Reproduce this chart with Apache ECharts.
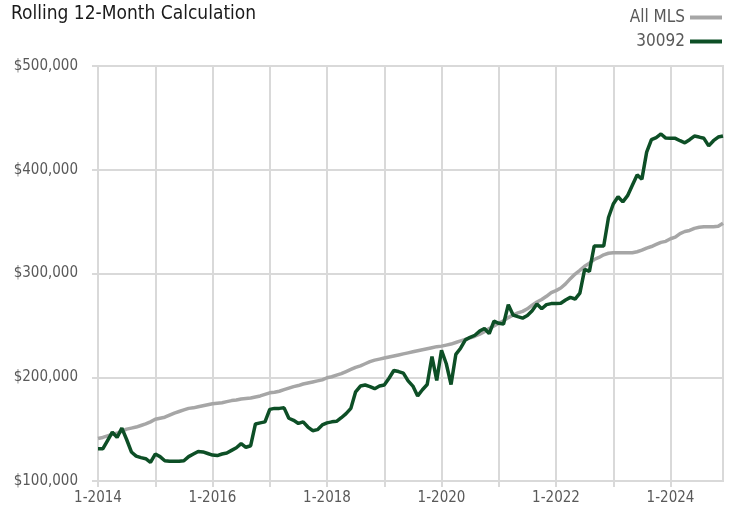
<!DOCTYPE html>
<html>
<head>
<meta charset="utf-8">
<script src="https://cdn.jsdelivr.net/npm/echarts@6/dist/echarts.min.js"></script>
<style>
  html, body { margin: 0; padding: 0; background: #fff; }
  #chart { width: 733px; height: 515px; }
</style>
</head>
<body>
<div id="chart"></div>
<script>
// monthly values, 1-2014 .. 12-2024 (thousands of $)
var allMls = [
  141, 142, 143.5, 145, 146, 148, 150, 151, 152, 153.5, 155, 157,
  159.5, 160.5, 161.5, 163.5, 165.5, 167, 168.5, 170, 170.5, 171.5, 172.5, 173.5,
  174.5, 175, 175.5, 176.5, 177.5, 178, 179, 179.5, 180, 181, 182, 183.5,
  185, 185.5, 186.5, 188, 189.5, 191, 192, 193.5, 194.5, 195.5, 196.5, 197.5,
  199.5, 200.5, 202, 203.5, 205.5, 207.5, 209.5, 211, 213, 215, 216.5, 217.5,
  218.5, 219.5, 220.5, 221.5, 222.5, 223.5, 224.5, 225.5, 226.5, 227.5, 228.5, 229.5,
  230, 231, 232, 233.5, 235, 236.5, 238, 239.5, 241.5, 244, 247, 249.5,
  252, 254.5, 257.5, 260, 262, 263.5, 266, 269.5, 272.5, 275, 278, 281.5,
  283.5, 286, 290, 295, 299.5, 303, 307, 310, 313.5, 315.5, 318, 319.5,
  320, 320, 320, 320, 320, 321, 322.5, 324.5, 326, 328, 330, 331,
  333.5, 335, 338.5, 340.5, 341.5, 343.5, 344.5, 345, 345, 345, 345.5, 348.5
]
var zip30092 = [
  131, 131, 139, 147, 142, 151, 140, 128, 124, 122.5, 121.5, 118,
  126, 123.5, 119.5, 119, 119, 119, 119.5, 123.5, 126, 128.5, 128, 126.5,
  125, 124.5, 126, 127, 129.5, 132, 136, 132.5, 134, 155, 156, 157,
  169, 170, 170, 170.5, 160.5, 158.5, 155.5, 157, 152, 148.5, 149.5, 154,
  156, 157, 157.5, 161, 165, 170, 186, 191.5, 192.5, 191, 189, 191.5,
  192.5, 199, 206.5, 205.5, 204, 196.5, 191.5, 182, 188, 193, 220, 197,
  226, 213, 193, 222, 228, 236, 238.5, 240.5, 244.5, 247, 242, 254,
  252, 251.3, 270, 260, 258.4, 257, 259.5, 264, 270.5, 266, 270, 271,
  271, 271.3, 274.5, 277, 275.4, 281, 304, 302, 326.5, 326.5, 326.5, 354,
  367, 374, 369, 375, 385, 395, 391, 417, 429, 431, 434.5, 430.5,
  430.3, 430.3, 428, 426, 429, 432.5, 431.5, 430.3, 423, 428, 431.5, 432.5
]
var startYear = 2014
var endYear = 2024

var months = []
for (var y = startYear; y <= endYear; y++) {
  for (var m = 1; m <= 12; m++) {
    months.push(m + '-' + y)
  }
}

var font = "'Liberation Sans Narrow', 'DejaVu Sans Condensed', sans-serif"
var gridColor = '#d9d9d9'

function money (v) {
  return '$' + String(v).replace(/\B(?=(\d{3})+(?!\d))/g, ',')
}

var myChart = echarts.init(document.getElementById('chart'))
var option = {
  animation: false,
  title: {
    text: 'Rolling 12-Month Calculation',
    left: 6,
    top: 0,
    textStyle: { fontFamily: font, fontSize: 19, fontWeight: 'normal', color: '#1a1a1a' }
  },
  legend: {
    orient: 'vertical',
    right: 6,
    top: 4,
    align: 'right',
    itemWidth: 32,
    itemHeight: 4,
    itemGap: 7,
    icon: 'rect',
    textStyle: { fontFamily: font, fontSize: 17, color: '#595959' },
    data: ['All MLS', '30092']
  },
  grid: {
    left: 98,
    right: 10,
    top: 66,
    bottom: 34,
    show: true,
    borderColor: gridColor,
    borderWidth: 2
  },
  xAxis: {
    type: 'category',
    boundaryGap: false,
    data: months,
    axisLine: { lineStyle: { color: gridColor, width: 2 } },
    axisTick: {
      show: true,
      length: 6,
      interval: function (i) { return i % 12 === 0 },
      lineStyle: { color: gridColor, width: 2 }
    },
    axisLabel: {
      interval: function (i) { return i % 24 === 0 },
      margin: 10,
      fontFamily: font,
      fontSize: 15,
      color: '#595959'
    },
    splitLine: {
      show: true,
      interval: function (i) { return i % 12 === 0 },
      lineStyle: { color: gridColor, width: 2 }
    }
  },
  yAxis: {
    type: 'value',
    min: 100000,
    max: 500000,
    interval: 100000,
    axisLine: { show: true, lineStyle: { color: gridColor, width: 2 } },
    axisTick: { show: true, length: 6, lineStyle: { color: gridColor, width: 2 } },
    axisLabel: {
      margin: 20,
      fontFamily: font,
      fontSize: 15,
      color: '#595959',
      formatter: money
    },
    splitLine: { lineStyle: { color: gridColor, width: 2 } }
  },
  series: [{
    name: 'All MLS',
    type: 'line',
    showSymbol: false,
    data: allMls.map(function (v) { return v * 1000 }),
    lineStyle: { color: '#a6a6a6', width: 3.5 },
    itemStyle: { color: '#a6a6a6' }
  }, {
    name: '30092',
    type: 'line',
    showSymbol: false,
    data: zip30092.map(function (v) { return v * 1000 }),
    lineStyle: { color: '#0d4f26', width: 3.5 },
    itemStyle: { color: '#0d4f26' }
  }]
}
myChart.setOption(option)
</script>
</body>
</html>
